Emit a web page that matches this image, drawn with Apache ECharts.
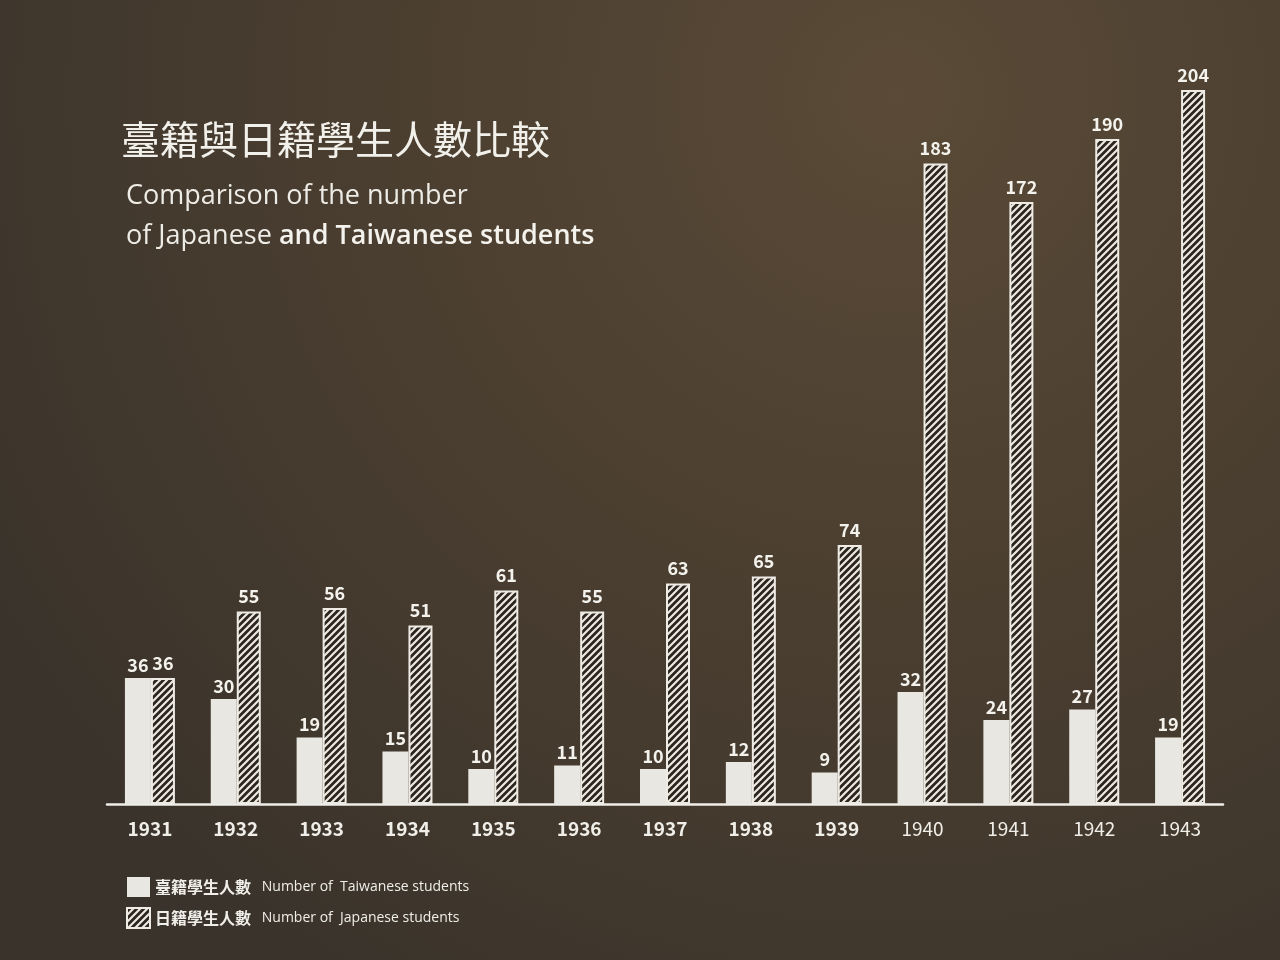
<!DOCTYPE html>
<html>
<head>
<meta charset="utf-8">
<script src="https://cdn.jsdelivr.net/npm/echarts@6/dist/echarts.min.js"></script>
<style>
html,body{margin:0;padding:0;width:1280px;height:960px;overflow:hidden;background:#3b3229;}
#chart{width:1280px;height:960px;}
</style>
</head>
<body>
<div id="chart"></div>
<script>
const categories = ['1931','1932','1933','1934','1935','1936','1937','1938','1939','1940','1941','1942','1943'];
const taiwanese = [36,30,19,15,10,11,10,12,9,32,24,27,19];
const japanese = [36,55,56,51,61,55,63,65,74,183,172,190,204];
const seriesNames = ['臺籍學生人數','日籍學生人數'];
const seriesNamesEn = ['Taiwanese students','Japanese students'];

// hatch pattern
const pc = document.createElement('canvas');
pc.width = 7; pc.height = 7;
const ctx = pc.getContext('2d');
ctx.fillStyle = '#2c251e';
ctx.fillRect(0,0,7,7);
ctx.strokeStyle = '#ece9e2';
ctx.lineWidth = 2.2;
ctx.beginPath();
ctx.moveTo(-1,8); ctx.lineTo(8,-1);
ctx.moveTo(-4.5,4.5); ctx.lineTo(4.5,-4.5);
ctx.moveTo(2.5,11.5); ctx.lineTo(11.5,2.5);
ctx.stroke();

const chart = echarts.init(document.getElementById('chart'));
const font = '"Noto Sans CJK TC","Noto Sans",sans-serif';
const latin = '"Open Sans","Noto Sans",sans-serif';
const catData = categories.map(c => ({
  value: c,
  textStyle: { fontWeight: (+c >= 1940) ? 'normal' : 'bold' }
}));
chart.setOption({
  backgroundColor: {
    type: 'radial', x: 0.7, y: 0.1, r: 1.1,
    colorStops: [
      {offset: 0, color: '#5a4a37'},
      {offset: 0.5, color: '#4a3e30'},
      {offset: 1, color: '#3a332b'}
    ]
  },
  textStyle: { fontFamily: font },
  title: [
    {
      text: '臺籍與日籍學生人數比較',
      left: 116, top: 115,
      textStyle: { color: '#f2f0ea', fontSize: 39, fontWeight: 'normal', fontFamily: font }
    },
    {
      text: '{a|Comparison of the number}\n{a|of Japanese }{b|and Taiwanese students}',
      left: 121, top: 171,
      textStyle: {
        color: '#f2f0ea', fontFamily: latin, fontWeight: 'normal',
        rich: {
          a: { fontSize: 27, color: '#eeece6', lineHeight: 40, fontWeight: 'normal', fontFamily: latin },
          b: { fontSize: 27, color: '#f4f2ec', lineHeight: 40, fontWeight: 600, fontFamily: latin }
        }
      }
    }
  ],
  legend: {
    orient: 'vertical',
    left: 121, top: 872,
    itemWidth: 23, itemHeight: 20, itemGap: 10,
    icon: 'rect',
    data: seriesNames,
    formatter: function (name) {
      const i = seriesNames.indexOf(name);
      return '{z|' + name + '}    {n|Number of  ' + seriesNamesEn[i] + '}';
    },
    textStyle: {
      color: '#f0eee8',
      rich: {
        z: { fontSize: 16, fontWeight: 'bold', color: '#f0eee8', fontFamily: font },
        n: { fontSize: 14, color: '#f0eee8', fontFamily: latin }
      }
    }
  },
  grid: { left: 107, right: 57, top: 804 - 3.5 * 220, bottom: 156 },
  xAxis: {
    type: 'category',
    data: catData,
    axisLine: { lineStyle: { color: '#f0eee8', width: 2.5 } },
    axisTick: { show: false },
    axisLabel: { color: '#f0eee8', fontSize: 19, margin: 15, fontFamily: font }
  },
  yAxis: {
    type: 'value', min: 0, max: 220,
    show: false,
    splitLine: { show: false }
  },
  series: [
    {
      name: seriesNames[0],
      type: 'bar',
      data: taiwanese,
      barWidth: 26,
      barGap: '0%',
      itemStyle: { color: '#e9e7e1' },
      label: {
        show: true, position: 'top', distance: 4,
        color: '#f4f2ec', fontSize: 18, fontWeight: 'bold', fontFamily: font
      }
    },
    {
      name: seriesNames[1],
      type: 'bar',
      data: japanese,
      barWidth: 24,
      barGap: '0%',
      itemStyle: {
        color: { image: pc, repeat: 'repeat' },
        borderColor: '#eeebe4',
        borderWidth: 2
      },
      label: {
        show: true, position: 'top', distance: 6,
        color: '#f4f2ec', fontSize: 18, fontWeight: 'bold', fontFamily: font
      }
    }
  ]
});
</script>
</body>
</html>
